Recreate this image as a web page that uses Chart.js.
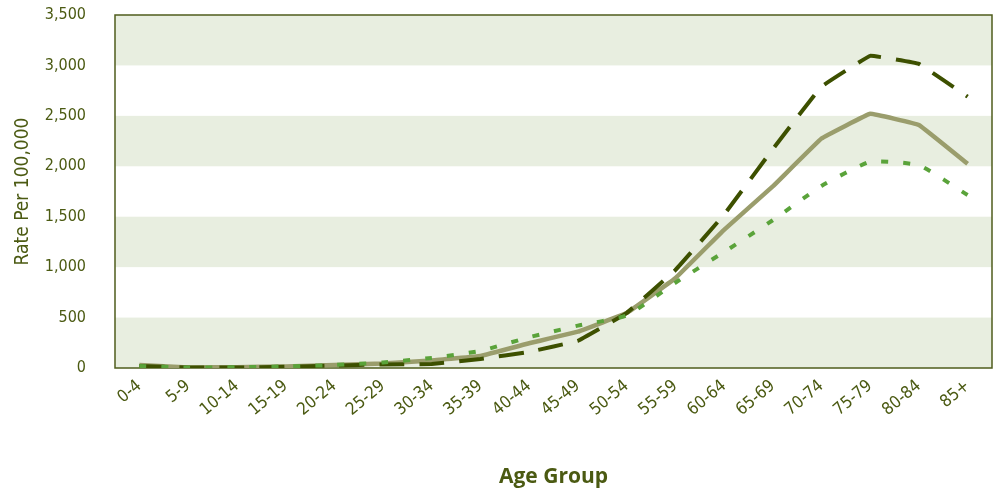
<!DOCTYPE html>
<html>
<head>
<meta charset="utf-8">
<script src="https://cdn.jsdelivr.net/npm/chart.js@4/dist/chart.umd.min.js"></script>
<style>
  html, body { margin: 0; padding: 0; background: #ffffff; }
  #wrap { width: 1006px; height: 490px; position: relative; }
</style>
</head>
<body>
<div id="wrap"><canvas id="c" width="1006" height="490"></canvas></div>
<script>
const ageGroups = ["0-4","5-9","10-14","15-19","20-24","25-29","30-34","35-39","40-44","45-49","50-54","55-59","60-64","65-69","70-74","75-79","80-84","85+"];
const solidSeries  = [30, 5, 8, 15, 30, 45, 75, 120, 245, 360, 545, 890, 1370, 1800, 2275, 2520, 2410, 2025];
const dashedSeries = [20, 5, 5, 12, 25, 35, 40, 90, 160, 270, 545, 970, 1520, 2170, 2790, 3095, 3015, 2690];
const dottedSeries = [20, 5, 8, 15, 30, 55, 100, 170, 305, 420, 520, 845, 1150, 1465, 1805, 2045, 2010, 1715];
const yTicks = [0, 500, 1000, 1500, 2000, 2500, 3000, 3500];
const bandRanges = [[0,500],[1000,1500],[2000,2500],[3000,3500]];

const textColor = '#4b5a12';
const fontFam = "'DejaVu Sans Condensed', 'Liberation Sans Narrow', sans-serif";

const bandsPlugin = {
  id: 'bands',
  beforeDatasetsDraw(chart) {
    const {ctx, chartArea: a, scales: {y}} = chart;
    ctx.save();
    ctx.fillStyle = '#e8eee0';
    bandRanges.forEach(([lo, hi]) => {
      const y1 = y.getPixelForValue(hi), y2 = y.getPixelForValue(lo);
      ctx.fillRect(a.left, y1, a.right - a.left, y2 - y1);
    });
    ctx.strokeStyle = '#4f5c1c';
    ctx.lineWidth = 1.5;
    ctx.strokeRect(a.left, a.top, a.right - a.left, a.bottom - a.top);
    ctx.restore();
  }
};

new Chart(document.getElementById('c'), {
  type: 'line',
  data: {
    labels: ageGroups,
    datasets: [
      { label: 'Dotted', data: dottedSeries, borderColor: '#5aa33a', borderWidth: 4, borderDash: [7, 15], pointRadius: 0, tension: 0.15, fill: false },
      { label: 'Dashed', data: dashedSeries, borderColor: '#3d5000', borderWidth: 4, borderDash: [25, 15], pointRadius: 0, tension: 0.05, fill: false },
      { label: 'Solid', data: solidSeries, borderColor: '#9a9d6c', borderWidth: 4.5, pointRadius: 0, tension: 0.05, fill: false }
    ]
  },
  options: {
    responsive: false,
    animation: false,
    devicePixelRatio: 1,
    layout: { padding: { top: 15, right: 14, left: 0, bottom: 0 } },
    plugins: { legend: { display: false }, tooltip: { enabled: false } },
    scales: {
      x: {
        offset: true,
        grid: { display: false, drawTicks: false },
        border: { display: false },
        ticks: { color: textColor, font: { family: fontFam, size: 17 }, minRotation: 40, maxRotation: 40, autoSkip: false, padding: 8 },
        title: { display: true, text: 'Age Group', color: textColor, font: { family: "'Open Sans', sans-serif", size: 21, weight: 'bold' }, padding: { top: 0, bottom: 0 } },
        afterFit(s) { s.height = 122; s.paddingLeft = 0; s.paddingRight = 0; }
      },
      y: {
        min: 0, max: 3500,
        afterBuildTicks(s) { s.ticks = yTicks.map(v => ({ value: v })); },
        grid: { display: false, drawTicks: false },
        border: { display: false },
        ticks: { color: textColor, font: { family: fontFam, size: 16 }, padding: 29, callback: v => v.toLocaleString('en-US') },
        title: { display: true, text: 'Rate Per 100,000', color: textColor, font: { family: fontFam, size: 19 }, padding: { top: 12, bottom: 4 } },
        afterFit(s) { s.width = 115; s.paddingTop = 0; s.paddingBottom = 0; }
      }
    }
  },
  plugins: [bandsPlugin]
});
</script>
</body>
</html>
